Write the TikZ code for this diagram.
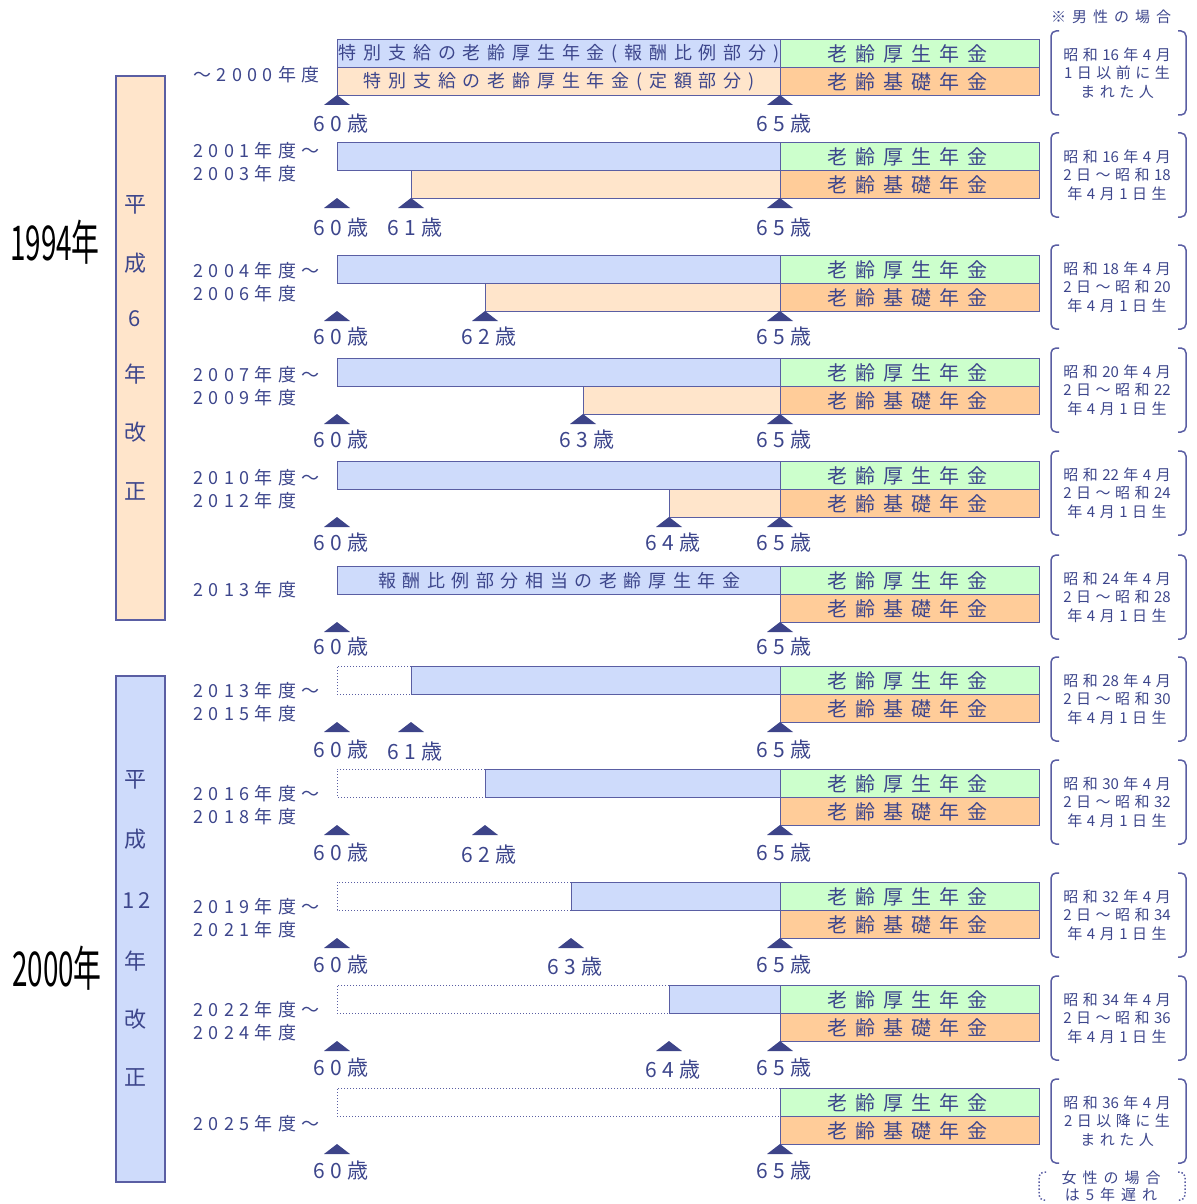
\documentclass[tikz,border=0pt]{standalone}
\usepackage{fontspec}
\setmainfont{Noto Sans CJK JP}
\definecolor{txt}{HTML}{3D468C}
\definecolor{bord}{HTML}{5A5EA3}
\definecolor{trif}{HTML}{3D4489}
\definecolor{bl}{HTML}{CEDBFB}
\definecolor{lor}{HTML}{FFE5CB}
\definecolor{gr}{HTML}{CCFFCC}
\definecolor{og}{HTML}{FFCC99}
\ExplSyntaxOn
\tl_new:N \l_my_ls_tl
\NewDocumentCommand\ls{O{0.3em}m}{
  \tl_set:No \l_my_ls_tl {#2}
  \tl_map_inline:Nn \l_my_ls_tl {##1\kern#1}\unkern
}
\ExplSyntaxOff
\tikzset{
  bar/.style={draw=bord, line width=0.7pt, inner sep=0pt, minimum height=14pt,
    anchor=north west, text=txt, font=\fontsize{10}{12}\selectfont},
  dotbar/.style={draw=bord, densely dotted, line width=0.5pt},
  tri/.style={fill=trif},
  age/.style={text=txt, inner sep=0pt, font=\fontsize{10.5}{12}\selectfont},
  yl/.style={text=txt, inner sep=0pt, anchor=west, align=left, font=\fontsize{9}{11.5}\selectfont},
  side/.style={draw=bord, line width=0.7pt, minimum width=24.5pt},
  sidech/.style={text=txt, inner sep=0pt, font=\fontsize{11}{12}\selectfont},
  brk/.style={draw=bord, line width=0.75pt, rounded corners=2.5pt},
  bt/.style={text=txt, inner sep=0pt, align=center, font=\fontsize{7.5}{9.35}\selectfont},
  big/.style={text=black, inner sep=0pt, font=\fontsize{24}{26}\selectfont, xscale=0.58}
}
\newcommand\mybrk[5]{%
  \draw[brk] (1059,#2-42) -- (1051,#2-42) -- (1051,#2+42) -- (1059,#2+42);
  \draw[brk] (1178,#2-42) -- (1186,#2-42) -- (1186,#2+42) -- (1178,#2+42);
  \node[bt] (#1) at (1117,#2) {\ls{#3}\\\ls{#4}\\\ls{#5}};
}
\begin{document}
\begin{tikzpicture}[x=0.5pt,y=-0.5pt]
\useasboundingbox (0,0) rectangle (1197,1204);

% side boxes
\node[side, fill=lor, minimum height=272pt] (s1) at (140.5,348) {};
\node[side, fill=bl, minimum height=253pt] (s2) at (140.5,929) {};
\node[sidech] (sa1) at (135,205) {平};
\node[sidech] (sa2) at (135,263) {成};
\node[sidech] (sa3) at (135,319) {6};
\node[sidech] (sa4) at (135,374) {年};
\node[sidech] (sa5) at (135,432) {改};
\node[sidech] (sa6) at (135,491) {正};
\node[sidech] (sb1) at (135,780) {平};
\node[sidech] (sb2) at (135,839) {成};
\node[sidech] (sb3) at (137,901) {\ls[2pt]{12}};
\node[sidech] (sb4) at (135,961) {年};
\node[sidech] (sb5) at (135,1019) {改};
\node[sidech] (sb6) at (135,1077) {正};

% big years
\node[big] (y94) at (55,242) {1994年};
\node[big] (y00) at (57,968) {2000年};

% year labels
\node[yl] (l1) at (193,75) {\ls{～2000年度}};
\node[yl] (l2) at (193,162.5) {\ls{2001年度～}\\\ls{2003年度}};
\node[yl] (l3) at (193,282.5) {\ls{2004年度～}\\\ls{2006年度}};
\node[yl] (l4) at (193,386) {\ls{2007年度～}\\\ls{2009年度}};
\node[yl] (l5) at (193,489) {\ls{2010年度～}\\\ls{2012年度}};
\node[yl] (l6) at (193,590) {\ls{2013年度}};
\node[yl] (l7) at (193,702.5) {\ls{2013年度～}\\\ls{2015年度}};
\node[yl] (l8) at (193,805.5) {\ls{2016年度～}\\\ls{2018年度}};
\node[yl] (l9) at (193,918) {\ls{2019年度～}\\\ls{2021年度}};
\node[yl] (l10) at (193,1021) {\ls{2022年度～}\\\ls{2024年度}};
\node[yl] (l11) at (193,1124) {\ls{2025年度～}};

% dotted (no longer paid) parts
\draw[dotbar] (411,666) -- (337,666) -- (337,694) -- (411,694);
\draw[dotbar] (485,769) -- (337,769) -- (337,797) -- (485,797);
\draw[dotbar] (571,882) -- (337,882) -- (337,910) -- (571,910);
\draw[dotbar] (669,985) -- (337,985) -- (337,1013) -- (669,1013);
\draw[dotbar] (780,1088) -- (337,1088) -- (337,1116) -- (780,1116);

% special pension bars
\node[bar, fill=bl, minimum width=221.5pt, font=\fontsize{9}{11}\selectfont] (b1t) at (337,39) {\ls[3.4pt]{特別支給の老齢厚生年金(報酬比例部分)}};
\node[bar, fill=lor, minimum width=221.5pt, font=\fontsize{9}{11}\selectfont] (b1b) at (337,67) {\ls[3.4pt]{特別支給の老齢厚生年金(定額部分)}};
\node[bar, fill=bl, minimum width=221.5pt] (b2t) at (337,142) {};
\node[bar, fill=lor, minimum width=184.5pt] (b2b) at (411,170) {};
\node[bar, fill=bl, minimum width=221.5pt] (b3t) at (337,255) {};
\node[bar, fill=lor, minimum width=147.5pt] (b3b) at (485,283) {};
\node[bar, fill=bl, minimum width=221.5pt] (b4t) at (337,358) {};
\node[bar, fill=lor, minimum width=98.5pt] (b4b) at (583,386) {};
\node[bar, fill=bl, minimum width=221.5pt] (b5t) at (337,461) {};
\node[bar, fill=lor, minimum width=55.5pt] (b5b) at (669,489) {};
\node[bar, fill=bl, minimum width=221.5pt, font=\fontsize{9}{11}\selectfont] (b6t) at (337,566) {\ls[3.3pt]{報酬比例部分相当の老齢厚生年金}};
\node[bar, fill=bl, minimum width=184.5pt] (b7t) at (411,666) {};
\node[bar, fill=bl, minimum width=147.5pt] (b8t) at (485,769) {};
\node[bar, fill=bl, minimum width=104.5pt] (b9t) at (571,882) {};
\node[bar, fill=bl, minimum width=55.5pt] (b10t) at (669,985) {};

% regular pensions from 65
\foreach \n/\t in {1/39,2/142,3/255,4/358,5/461,6/566,7/666,8/769,9/882,10/985,11/1088} {
  \node[bar, fill=gr, minimum width=129.5pt] (g\n) at (780,\t) {\ls[4pt]{老齢厚生年金}\kern3pt};
  \node[bar, fill=og, minimum width=129.5pt] (o\n) at (780,\t+28) {\ls[4pt]{老齢基礎年金}\kern3pt};
}

% triangles
\foreach \y/\xs in {95/{337,780},198/{337,411,780},311/{337,485,780},414/{337,583,780},517/{337,669,780},622/{337,780},722/{337,411,780},825/{337,485,780},938/{337,571,780},1041/{337,669,780},1144/{337,780}}
  \foreach \x in \xs
    \fill[tri] (\x-13,\y+10) -- (\x,\y) -- (\x+13,\y+10) -- cycle;

% age labels
\foreach \y/\x/\agev in {124/341/60,124/784/65,228/341/60,228/415/61,228/784/65,337/341/60,337/489/62,337/784/65,440/341/60,440/587/63,440/784/65,543/341/60,543/673/64,543/784/65,647/341/60,647/784/65,750/341/60,752/415/61,750/784/65,853/341/60,855/489/62,853/784/65,965/341/60,967/575/63,965/784/65,1068/341/60,1070/673/64,1068/784/65,1171/341/60,1171/784/65}
  \node[age] (a\y-\x) at (\x,\y) {\ls[2.5pt]{\agev 歳}};

% right-hand brackets
\node[bt] (men) at (1111,17) {\ls[3pt]{※男性の場合}};
\mybrk{c1}{73}{昭和{16}年4月}{1日以前に生}{まれた人}
\mybrk{c2}{175}{昭和{16}年4月}{2日～昭和{18}}{年4月1日生}
\mybrk{c3}{287}{昭和{18}年4月}{2日～昭和{20}}{年4月1日生}
\mybrk{c4}{390}{昭和{20}年4月}{2日～昭和{22}}{年4月1日生}
\mybrk{c5}{493}{昭和{22}年4月}{2日～昭和{24}}{年4月1日生}
\mybrk{c6}{597}{昭和{24}年4月}{2日～昭和{28}}{年4月1日生}
\mybrk{c7}{699}{昭和{28}年4月}{2日～昭和{30}}{年4月1日生}
\mybrk{c8}{802}{昭和{30}年4月}{2日～昭和{32}}{年4月1日生}
\mybrk{c9}{915}{昭和{32}年4月}{2日～昭和{34}}{年4月1日生}
\mybrk{c10}{1018}{昭和{34}年4月}{2日～昭和{36}}{年4月1日生}
\mybrk{c11}{1121}{昭和{36}年4月}{2日以降に生}{まれた人}

% women note
\draw[brk, densely dotted] (1046,1172) -- (1039,1172) -- (1039,1200) -- (1046,1200);
\draw[brk, densely dotted] (1178,1172) -- (1185,1172) -- (1185,1200) -- (1178,1200);
\node[bt, font=\fontsize{7.5}{8.6}\selectfont] (women) at (1111,1186.5) {\ls[3pt]{女性の場合}\\\ls[3pt]{は5年遅れ}};
\end{tikzpicture}
\end{document}
